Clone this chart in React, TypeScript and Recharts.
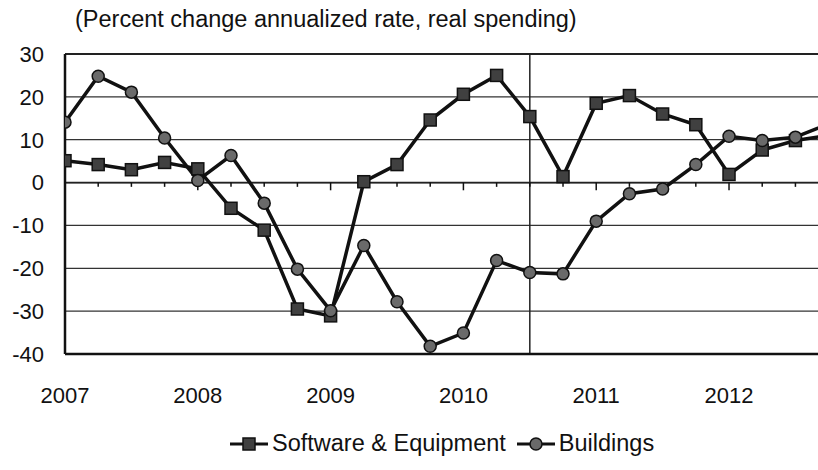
import React from 'react';
import { LineChart, Line, XAxis, YAxis, CartesianGrid, ReferenceLine, Legend } from 'recharts';

const quarterLabels = [
  '2007Q1', '2007Q2', '2007Q3', '2007Q4',
  '2008Q1', '2008Q2', '2008Q3', '2008Q4',
  '2009Q1', '2009Q2', '2009Q3', '2009Q4',
  '2010Q1', '2010Q2', '2010Q3', '2010Q4',
  '2011Q1', '2011Q2', '2011Q3', '2011Q4',
  '2012Q1', '2012Q2', '2012Q3', '2012Q4',
];
const quarterIndex = [0, 1, 2, 3, 4, 5, 6, 7, 8, 9, 10, 11, 12, 13, 14, 15, 16, 17, 18, 19, 20, 21, 22, 23];
const softwareEquipment = [5.1, 4.2, 3.0, 4.7, 3.2, -6.0, -11.1, -29.5, -31.1, 0.2, 4.2, 14.6, 20.6, 25.0, 15.4, 1.4, 18.5, 20.3, 16.0, 13.5, 1.9, 7.6, 9.8, 11.0];
const buildings = [14.1, 24.8, 21.1, 10.4, 0.5, 6.3, -4.8, -20.2, -29.9, -14.7, -27.8, -38.2, -35.1, -18.2, -21.0, -21.3, -9.0, -2.6, -1.5, 4.2, 10.8, 9.8, 10.6, 13.7];
const yearLabels = ['2007', '2008', '2009', '2010', '2011', '2012'];
const yearTickIndex = [0, 4, 8, 12, 16, 20];
const yTicks = [-40, -30, -20, -10, 0, 10, 20, 30];
const minorTickIndex = [1, 2, 3, 5, 6, 7, 9, 10, 11, 13, 14, 15, 17, 18, 19, 21, 22];
const majorTickIndex = [4, 8, 12, 16, 20];
const dividerIndex = 14;
const titleText = '(Percent change annualized rate, real spending)';
const seriesOrder = ['se', 'bld'];

const data = quarterIndex.map((q, i) => ({
  q,
  label: quarterLabels[i],
  se: softwareEquipment[i],
  bld: buildings[i],
}));

const FONT = '"Liberation Sans", Arial, Helvetica, sans-serif';

const SquareDot = (props: any) => {
  const { cx, cy, index } = props;
  if (cx == null || cy == null) return <g key={`s${index}`} />;
  return (
    <rect key={`s${index}`} x={cx - 6} y={cy - 6} width={12} height={12}
      fill="#404040" stroke="#111" strokeWidth={1.5} />
  );
};

const CircleDot = (props: any) => {
  const { cx, cy, index } = props;
  if (cx == null || cy == null) return <g key={`c${index}`} />;
  return <circle key={`c${index}`} cx={cx} cy={cy} r={6} fill="#6a6a6a" stroke="#111" strokeWidth={1.5} />;
};

const LegendContent = (props: any) => {
  const payload = [...(props.payload || [])].sort(
    (a: any, b: any) => seriesOrder.indexOf(a.dataKey) - seriesOrder.indexOf(b.dataKey)
  );
  return (
    <div style={{ display: 'flex', justifyContent: 'flex-start', alignItems: 'center', fontFamily: FONT, fontSize: 23.5, color: '#111', whiteSpace: 'nowrap' }}>
      {payload.map((p: any, i: number) => (
        <div key={i} style={{ display: 'flex', alignItems: 'center', marginLeft: i === 0 ? 0 : 10 }}>
          <svg width={40} height={20} style={{ marginRight: 3 }}>
            <line x1={1} y1={10} x2={39} y2={10} stroke="#111" strokeWidth={3} />
            {p.dataKey === 'se' ? (
              <rect x={14} y={4} width={12} height={12} fill="#404040" stroke="#111" strokeWidth={1.5} />
            ) : (
              <circle cx={20} cy={10} r={6} fill="#6a6a6a" stroke="#111" strokeWidth={1.5} />
            )}
          </svg>
          <span>{p.value}</span>
        </div>
      ))}
    </div>
  );
};

export default function App() {
  return (
    <div style={{ position: 'absolute', left: 0, top: 0, width: 818, height: 470, background: '#fff', overflow: 'hidden' }}>
      <div style={{ position: 'absolute', left: 75, top: 6, fontFamily: FONT, fontSize: 23.5, color: '#111', whiteSpace: 'nowrap' }}>
        {titleText}
      </div>
      <LineChart width={818} height={470} data={data} margin={{ top: 54, right: 0, bottom: 86, left: 0 }}>
        <CartesianGrid horizontal vertical={false} stroke="#333" strokeWidth={1.3} />
        <XAxis
          dataKey="q"
          type="number"
          domain={[0, 22.68]}
          allowDataOverflow
          ticks={yearTickIndex}
          tickFormatter={(v: number) => yearLabels[yearTickIndex.indexOf(v)] ?? ''}
          tickLine={false}
          tickSize={0}
          tickMargin={33}
          height={30}
          axisLine={{ stroke: '#111', strokeWidth: 2.5 }}
          tick={{ fill: '#111', fontSize: 22, fontFamily: FONT }}
        />
        <YAxis
          type="number"
          domain={[-40, 30]}
          ticks={yTicks}
          interval={0}
          width={65}
          tickLine={false}
          tickSize={0}
          tickMargin={21}
          axisLine={{ stroke: '#111', strokeWidth: 2.5 }}
          tick={{ fill: '#111', fontSize: 22, fontFamily: FONT }}
        />
        <ReferenceLine y={30} stroke="#222" strokeWidth={2} />
        <ReferenceLine y={0} stroke="#222" strokeWidth={1.8} />
        <ReferenceLine x={dividerIndex} stroke="#222" strokeWidth={1.5} />
        {minorTickIndex.map((i) => (
          <ReferenceLine key={`mt${i}`} segment={[{ x: i, y: 0 }, { x: i, y: -1 }]} stroke="#111" strokeWidth={1.5} />
        ))}
        {majorTickIndex.map((i) => (
          <ReferenceLine key={`Mt${i}`} segment={[{ x: i, y: 0 }, { x: i, y: -1.8 }]} stroke="#111" strokeWidth={1.5} />
        ))}
        <Legend
          verticalAlign="middle"
          align="center"
          layout="horizontal"
          wrapperStyle={{ top: 430, left: 229, width: 560 }}
          content={<LegendContent />}
        />
        <Line dataKey="se" name="Software & Equipment" stroke="#111" strokeWidth={3.5}
          dot={SquareDot} activeDot={false} isAnimationActive={false} />
        <Line dataKey="bld" name="Buildings" stroke="#111" strokeWidth={3.5}
          dot={CircleDot} activeDot={false} isAnimationActive={false} />
      </LineChart>
    </div>
  );
}
